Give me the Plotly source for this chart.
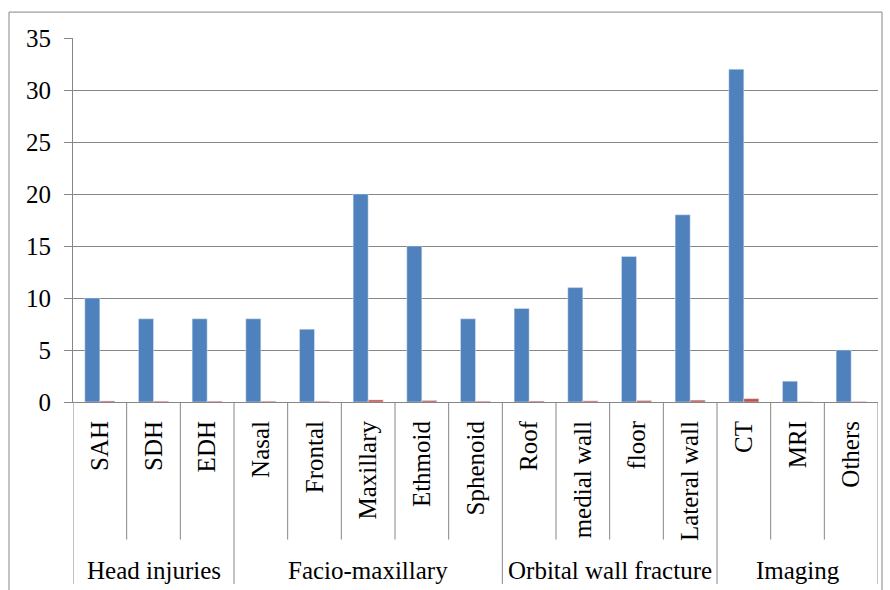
import plotly.graph_objects as go

categories = ["SAH", "SDH", "EDH", "Nasal", "Frontal", "Maxillary", "Ethmoid", "Sphenoid",
              "Roof", "medial wall", "floor", "Lateral wall", "CT", "MRI", "Others"]
groups = ["Head injuries", "Facio-maxillary", "Orbital wall fracture", "Imaging"]
group_sizes = [3, 5, 4, 3]
counts = [10, 8, 8, 8, 7, 20, 15, 8, 9, 11, 14, 18, 32, 2, 5]
fractions = [0.10, 0.08, 0.08, 0.08, 0.07, 0.20, 0.15, 0.08, 0.09, 0.11, 0.14, 0.18, 0.32, 0.02, 0.05]
y_ticks = [0, 5, 10, 15, 20, 25, 30, 35]

FONT = "'Liberation Serif', 'Times New Roman', serif"
GRID = "#868686"
xs = list(range(len(categories)))

fig = go.Figure()
fig.add_trace(go.Bar(x=xs, y=counts, marker_color="#4F81BD", name="Number"))
fig.add_trace(go.Bar(x=xs, y=fractions, marker_color="#C0504D", name="Fraction"))

shapes = []
# outer chart border
shapes.append(dict(type="rect", xref="paper", yref="paper", x0=-0.0795, x1=1.005, y0=-0.53, y1=1.0712,
                   line=dict(color=GRID, width=1), fillcolor="rgba(0,0,0,0)", layer="below"))
# category dividers
bounds = [0]
for s in group_sizes:
    bounds.append(bounds[-1] + s)
for i in range(len(categories) + 1):
    long = i in bounds
    shapes.append(dict(type="line", xref="x", yref="paper", x0=i - 0.5, x1=i - 0.5,
                       y0=0, y1=(-0.50 if long else -0.378),
                       line=dict(color=GRID, width=1)))

annotations = []
for g, (a, b) in zip(groups, zip(bounds[:-1], bounds[1:])):
    annotations.append(dict(x=(a + b - 1) / 2, y=-0.462, xref="x", yref="paper", text=g,
                            showarrow=False, font=dict(family=FONT, size=25, color="black"),
                            xanchor="center", yanchor="middle"))

fig.update_layout(
    width=890, height=590,
    margin=dict(l=73, r=12, t=38, b=188),
    paper_bgcolor="white", plot_bgcolor="white",
    barmode="group", bargap=0.44, bargroupgap=0,
    showlegend=False,
    shapes=shapes, annotations=annotations,
    xaxis=dict(range=[-0.5, len(categories) - 0.5], tickmode="array", tickvals=xs, ticktext=categories,
               tickangle=-90, ticks="", showgrid=False, showline=True, linecolor=GRID, linewidth=1,
               tickfont=dict(family=FONT, size=25, color="black"), ticklabelstandoff=8, zeroline=False,
               automargin=False),
    yaxis=dict(range=[0, 35], tickmode="array", tickvals=y_ticks, showgrid=True, gridcolor=GRID, gridwidth=1,
               showline=True, linecolor=GRID, linewidth=1, ticks="outside", ticklen=8, tickcolor=GRID,
               tickfont=dict(family=FONT, size=25, color="black"), ticklabelstandoff=8, zeroline=False,
               automargin=False),
)

fig.write_html("out.html", config={"displayModeBar": False},
               post_script="document.body.style.margin='0';document.body.style.overflow='hidden';")
